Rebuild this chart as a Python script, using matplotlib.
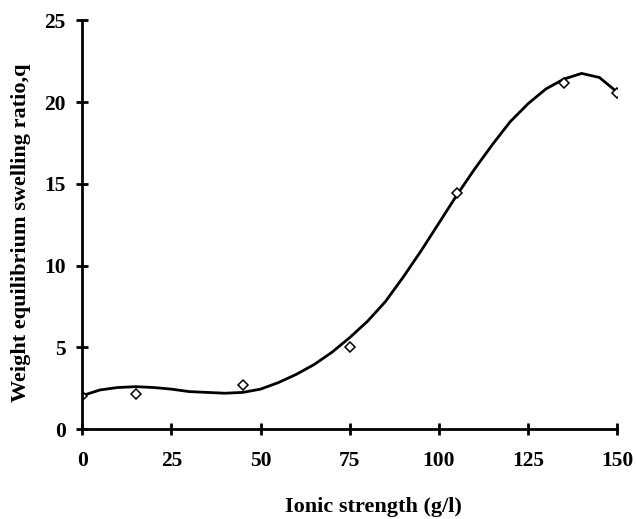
import numpy as np
import matplotlib.pyplot as plt

# measured points
ionic = [0, 15, 45, 75, 105, 135, 150]
ratio = [2.05, 2.15, 2.7, 5.0, 14.45, 21.15, 20.55]

# fitted curve
curve_x = [0, 5, 10, 15, 20, 25, 30, 35, 40, 45, 50, 55, 60, 65, 70, 75, 80,
           85, 90, 95, 100, 105, 110, 115, 120, 125, 130, 135, 140, 145, 150]
curve_y = [2.05, 2.4, 2.55, 2.6, 2.55, 2.45, 2.3, 2.25, 2.2, 2.25, 2.45, 2.85,
           3.35, 3.95, 4.7, 5.6, 6.6, 7.8, 9.3, 10.9, 12.6, 14.3, 15.9, 17.4,
           18.8, 19.9, 20.8, 21.4, 21.75, 21.5, 20.6]

xticks = [0, 25, 50, 75, 100, 125, 150]
yticks = [0, 5, 10, 15, 20, 25]

plt.rcParams['font.family'] = ['Liberation Serif', 'DejaVu Serif']
plt.rcParams['font.weight'] = 'bold'

fig = plt.figure(figsize=(6.37, 5.19), dpi=100)
ax = fig.add_axes([0.129, 0.173, 0.84, 0.788])

ax.plot(curve_x, curve_y, color='black', lw=2, solid_joinstyle='round')
ax.plot(ionic, ratio, linestyle='none', marker='D', markersize=5,
        markerfacecolor='white', markeredgecolor='black', markeredgewidth=1.1)

ax.set_xlim(0, 150)
ax.set_ylim(0, 25)
ax.set_xticks(xticks)
ax.set_yticks(yticks)
ax.spines['top'].set_visible(False)
ax.spines['right'].set_visible(False)
ax.spines['left'].set_linewidth(2)
ax.spines['bottom'].set_linewidth(2)
ax.tick_params(direction='inout', length=8, width=2, labelsize=15.5)
ax.tick_params(axis='x', pad=12)
ax.tick_params(axis='y', pad=8)
for lab in ax.get_xticklabels() + ax.get_yticklabels():
    lab.set_fontweight('bold')

ax.set_xlabel('Ionic strength (g/l)', fontsize=16, fontweight='bold')
ax.set_ylabel('Weight equilibrium swelling ratio,q', fontsize=16, fontweight='bold')
ax.xaxis.set_label_coords(0.544, -0.165)
ax.yaxis.set_label_coords(-0.095, 0.48)

fig.savefig('out.png', dpi=100)
